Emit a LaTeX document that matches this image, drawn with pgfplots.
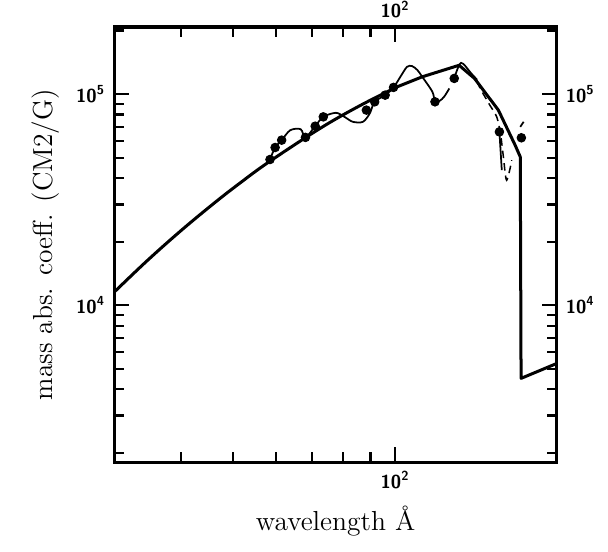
\documentclass[border=0pt]{standalone}
\usepackage{pgfplots}
\pgfplotsset{compat=1.18}

% tick label font of the old plotter
\newcommand{\tlab}[1]{\textsf{\textbf{10\textsuperscript{#1}}}}

\begin{document}
\begin{tikzpicture}
\begin{axis}[name=ax,
  scale only axis, width=177pt, height=174pt,
  xmode=log, ymode=log,
  xmin=30, xmax=200, ymin=1800, ymax=2.08e5,
  xtick={100}, xticklabels={\tlab{2}},
  minor xtick={30,40,50,60,70,80,90,200},
  ytick={1e4,1e5}, yticklabels={\tlab{4},\tlab{5}},
  minor ytick={2000,3000,4000,5000,6000,7000,8000,9000,
               20000,30000,40000,50000,60000,70000,80000,90000,200000},
  tick align=inside,
  ticklabel style={font=\fontsize{7.5}{8}\selectfont},
  axis line style={line width=1.2pt},
  tick style={line width=0.9pt, black},
  major tick length=6pt, minor tick length=4pt,
  xlabel={wavelength \AA},
  ylabel={mass abs. coeff. (CM2/G)},
  label style={font=\fontsize{11}{13}\selectfont},
]
% smooth absorption curve
\addplot[black, line width=1.2pt, line cap=round, smooth, tension=0.6] coordinates {
(30,11520) (34.55,16230) (39.97,22570) (46.04,30430) (51.46,37940)
(58.27,47780) (72.5,68800) (85.7,87780) (100.8,108200)
};
\addplot[black, line width=1.2pt, line cap=round, line join=round] coordinates {
(100.8,108200) (112.3,120800) (131.5,137000) (140.5,118600)
(155.6,84000) (167.2,57270) (170.9,50440) (171.5,4500) (200,5300)
};
% measured curve with structure
\addplot[black, line width=0.7pt, smooth, tension=0.5] coordinates {
(58.5,49000) (59.8,55860) (61.5,60530) (63.8,67450) (66.7,68220) (68.1,62380)
(71.0,70500) (73.5,78050) (77.6,81550) (80.5,78000) (83.4,73940) (87.1,73940)
(89.7,81040) (91.6,91950) (95.8,98900) (99.3,107600) (102.5,122000)
(105.2,134700) (107.5,135800) (110,130000) (112.3,120800) (117.3,102500)
(118.6,91950) (121,93000) (123.3,97100) (126.1,106400)
};
\addplot[black, line width=0.7pt, smooth, tension=0.5] coordinates {
(128.8,118700) (132.6,140700) (138.5,125400) (142,117000)
};
\addplot[black, line width=0.6pt, densely dashed, smooth, tension=0.5] coordinates {
(142,115000) (144.5,104500) (150,88700) (154.5,78050) (157,65000)
(159,50440) (161.2,39080) (164.8,48620)
};
\addplot[black, line width=0.7pt] coordinates {(156.3,66260) (157.9,43660)};
\addplot[black, line width=0.7pt] coordinates {(170.9,69960) (173.4,73940)};
% data points
\addplot[only marks, mark=*, mark size=1.7pt, black] coordinates {
(58.5,49000) (59.8,55860) (61.5,60530) (68.1,62380) (71.0,70500) (73.5,78050)
(88.4,84000) (91.6,91950) (95.8,98900) (99.3,107600) (118.6,91950)
(128.8,118700) (156.3,66260) (171.7,62110)
};
\end{axis}
% labels on the top and right sides
\begin{axis}[
  scale only axis, width=177pt, height=174pt,
  xmode=log, ymode=log,
  xmin=30, xmax=200, ymin=1800, ymax=2.08e5,
  xtick={100}, xticklabels={\tlab{2}},
  ytick={1e4,1e5}, yticklabels={\tlab{4},\tlab{5}},
  ticklabel style={font=\fontsize{7.5}{8}\selectfont},
  axis line style={draw=none}, tick style={draw=none},
  xticklabel pos=right, yticklabel pos=right,
]
\end{axis}
\pgfresetboundingbox
\path[use as bounding box] ([shift={(-45.6pt,-35.6pt)}]ax.south west)
  rectangle ([shift={(20.4pt,10.8pt)}]ax.north east);
\end{tikzpicture}
\end{document}
